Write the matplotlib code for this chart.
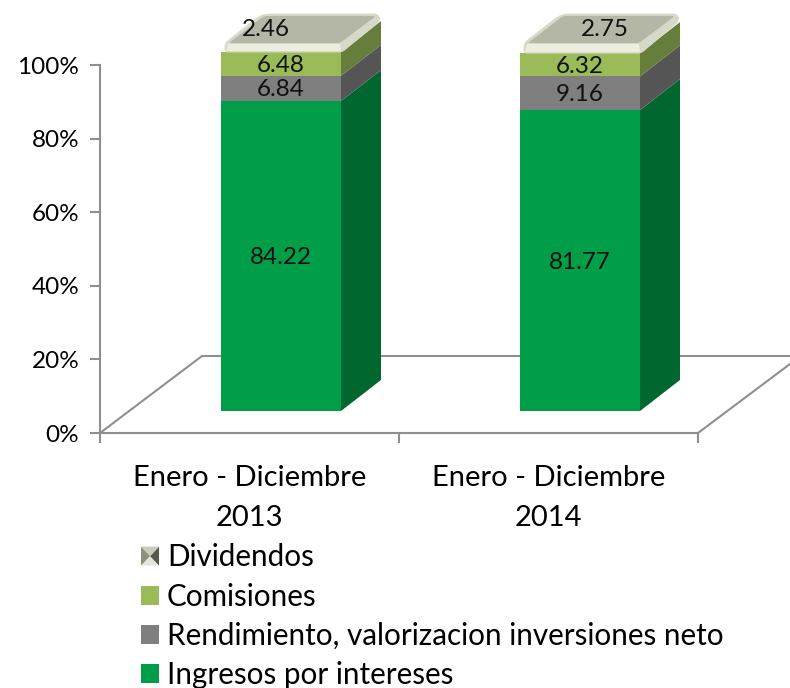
import matplotlib
matplotlib.use("Agg")
import matplotlib.pyplot as plt
import numpy as np
from matplotlib.patches import Polygon, PathPatch, Patch
from matplotlib.path import Path
from matplotlib.legend_handler import HandlerBase

categories = ["Enero - Diciembre\n2013", "Enero - Diciembre\n2014"]
series_names = ["Ingresos por intereses", "Rendimiento, valorizacion inversiones neto", "Comisiones", "Dividendos"]
ingresos = [84.22, 81.77]
rendimiento = [6.84, 9.16]
comisiones = [6.48, 6.32]
dividendos = [2.46, 2.75]
series = [ingresos, rendimiento, comisiones, dividendos]

front_colors = ["#009e48", "#7f7f7f", "#9bbb59"]
side_colors = ["#00672f", "#555555", "#667d3b"]
axis_color = "#8f8f8f"

W, H = 790, 688
plt.rcParams['font.family'] = ['Lato', 'DejaVu Sans']
fig = plt.figure(figsize=(W / 100, H / 100), dpi=100)
ax = fig.add_axes([100 / W, (H - 433) / H, 598 / W, 368 / H])
ax.set_xlim(0, 2)
ax.set_ylim(0, 100)
ax.patch.set_alpha(0)

PX = 2 / 598     # data units per pixel in x
PY = 100 / 368   # data units per pixel in y


def P(x, y, dx=0, dy=0):
    return (x + dx * PX, y - dy * PY)


for s in ["top", "right"]:
    ax.spines[s].set_visible(False)
for s in ["left", "bottom"]:
    ax.spines[s].set_color(axis_color)
    ax.spines[s].set_linewidth(1.5)
ax.set_yticks(np.arange(0, 101, 20))
ax.set_yticklabels([f"{v}%" for v in range(0, 101, 20)], fontsize=17.5)
ax.set_xticks([0, 1, 2])
ax.set_xticklabels([])
ax.set_xticks([0.5, 1.5], minor=True)
ax.set_xticklabels(categories, minor=True, fontsize=21, linespacing=1.7)
ax.tick_params(axis="x", which="major", length=7, width=1.5, color=axis_color)
ax.tick_params(axis="x", which="minor", length=0, pad=22.7)
ax.tick_params(axis="y", length=7, width=1.5, color=axis_color, pad=8)

# floor
floor_x = [0, 102 * PX, 690 * PX]
ax.plot(floor_x, [0, 77 * PY, 77 * PY], color=axis_color, lw=1.5, clip_on=False, zorder=1)
ax.plot([2, 2 + 92 * PX], [0, 69 * PY], color=axis_color, lw=1.5, clip_on=False, zorder=1)

base = 22 * PY
shift = 31.5 * PX
bw = 120 * PX
dep_x, dep_y = 40, 31


def rounded(points, r):
    verts, codes = [], []
    pts = np.array(points, dtype=float)
    n = len(pts)
    for i in range(n):
        p, a, b = pts[i], pts[i - 1], pts[(i + 1) % n]
        ua = (a - p) / np.hypot(*(a - p))
        ub = (b - p) / np.hypot(*(b - p))
        s, e = p + ua * r[i], p + ub * r[i]
        verts += [s, p, e]
        codes += [Path.MOVETO if i == 0 else Path.LINETO, Path.CURVE3, Path.CURVE3]
    verts.append(verts[0])
    codes.append(Path.CLOSEPOLY)
    return verts, codes


def px_patch(x0, y0, points, radii, **kw):
    """Rounded polygon given as pixel offsets from a bar anchor."""
    v, c = rounded(points, radii)
    data = [P(x0, y0, a, b) for a, b in v]
    ax.add_patch(PathPatch(Path(data, c), clip_on=False, **kw))


for i in range(len(categories)):
    left = i + 0.5 + shift - bw / 2
    right = left + bw
    cum = base
    for j in range(3):
        v = series[j][i]
        ax.bar(left + bw / 2, v, bw, bottom=cum, color=front_colors[j], linewidth=0, zorder=3, clip_on=False)
        ax.add_patch(Polygon([P(right, cum), P(right, cum, dep_x, -dep_y),
                              P(right, cum + v, dep_x, -dep_y), P(right, cum + v)],
                             closed=True, facecolor=side_colors[j], linewidth=0, zorder=2, clip_on=False))
        ax.text(*P(left + bw / 2, cum + v / 2, 0, 1.5), f"{v:.2f}", ha="center", va="center", fontsize=17.5, zorder=8, color="#111111")
        cum += v
    # bevelled top of the stack (Dividendos)
    d = series[3][i]
    top = cum + d
    h = d / PY  # pixel height of the segment
    px_patch(left, top, [(4, h), (4, 0), (41, -29), (158, -29), (159, -22), (121, h)],
             [3, 4, 8, 5, 4, 3], facecolor="#d6d9c8", edgecolor="#d8dbcb", linewidth=0.6, zorder=4)
    px_patch(left, top, [(8, 0), (43, -27), (155, -27), (119, 0)],
             [2, 3, 3, 2], facecolor="#b4b7a6", edgecolor="none", zorder=5)
    px_patch(left, top, [(5, h - 1), (7, 1), (119, 1), (120, h - 1)],
             [1, 1, 1, 1], facecolor="#ecefdf", edgecolor="none", zorder=5)
    lx = [-15, 25][i]
    ax.text(*P(left + bw / 2, top, lx, -13), f"{d:.2f}", ha="center", va="center", fontsize=17.5, zorder=8, color="#111111")


class BevelHandler(HandlerBase):
    def create_artists(self, legend, orig, xd, yd, w, h, fs, trans):
        x0, y0 = -xd, -yd
        cx, cy = x0 + w / 2, y0 + h / 2
        c = [(x0, y0), (x0 + w, y0), (x0 + w, y0 + h), (x0, y0 + h)]
        cols = ["#e4e6d6", "#55584a", "#c9ccb8", "#8e9180"]
        arts = []
        for k in range(4):
            arts.append(Polygon([c[k], c[(k + 1) % 4], (cx, cy)], closed=True,
                                facecolor=cols[k], linewidth=0, transform=trans))
        return arts


dummy = Patch(facecolor="#b4b7a6", label=series_names[3])
handles = [dummy,
           Patch(facecolor=front_colors[2], label=series_names[2]),
           Patch(facecolor=front_colors[1], label=series_names[1]),
           Patch(facecolor=front_colors[0], label=series_names[0])]
leg = fig.legend(handles=handles, labels=[h.get_label() for h in handles],
                 loc="upper left", bbox_to_anchor=(141 / W, 1 - 543.5 / H), bbox_transform=fig.transFigure,
                 frameon=False, fontsize=21.3, borderpad=0, borderaxespad=0,
                 handlelength=0.61, handleheight=0.61, handletextpad=0.27, labelspacing=0.38,
                 handler_map={dummy: BevelHandler()})
fig.savefig("out.png", dpi=100)
